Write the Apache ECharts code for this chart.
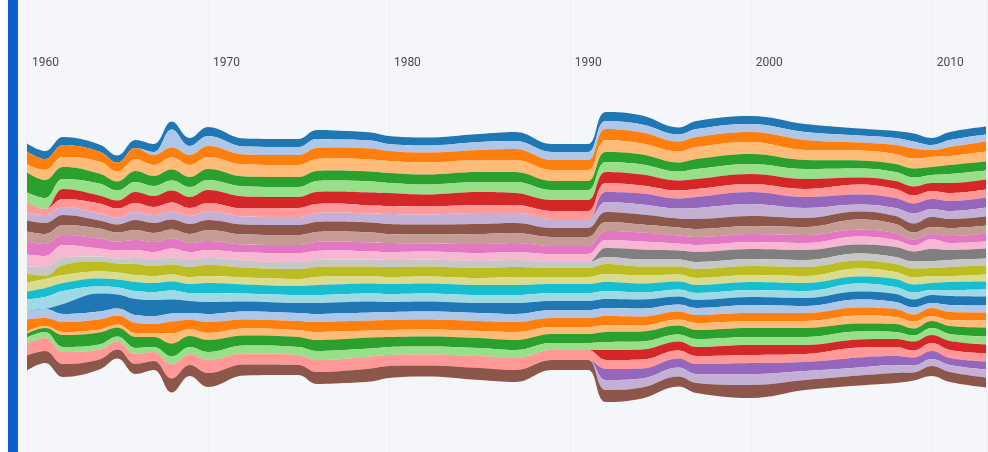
<!DOCTYPE html>
<html>
<head>
<meta charset="utf-8">
<title>ThemeRiver</title>
<script src="https://cdn.jsdelivr.net/npm/echarts@6/dist/echarts.min.js"></script>
<style>
    html, body { margin: 0; padding: 0; background: #fff; }
    #main { width: 988px; height: 452px; }
</style>
</head>
<body>
<div id="main"></div>
<script>
// 时间点
var years = [1960, 1961, 1962, 1964, 1965, 1966, 1967, 1968, 1969, 1970, 1972, 1975, 1976, 1977, 1979,
    1980, 1982, 1985, 1987, 1989, 1990, 1991, 1992, 1994, 1996, 1997, 2000, 2003, 2006, 2008, 2009,
    2010, 2011, 2013];

// 31 层, 从上到下
var layerNames = [];
for (var n = 1; n <= 31; n++) {
    layerNames.push('L' + n);
}

var palette = ['#1f77b4', '#aec7e8', '#ff7f0e', '#ffbb78', '#2ca02c', '#98df8a', '#d62728', '#ff9896',
    '#9467bd', '#c5b0d5', '#8c564b', '#c49c94', '#e377c2', '#f7b6d2', '#7f7f7f', '#c7c7c7',
    '#bcbd22', '#dbdb8d', '#17becf', '#9edae5'];

// 每一行对应 years 中的一年, 每列是一层的厚度
var thickness = [
    [8,0,13,8,20,10,0,10,0,8,11,10,13,12,0,7,9,9,8,12,0,8,12,2,4,6,0,12,0,0,15],
    [8,0,11,10,18,11,0,6,0,8,11,10,12,11,0,9,3,9,9,12,0,9,8,2,4,6,0,13,0,0,12],
    [8,0,12,10,12,10,10,8,0,8,10,10,10,12,0,8,10,8,8,13,10,8,10,3,12,5,0,12,0,0,13],
    [7,0,10,12,10,12,8,10,0,7,8,10,10,8,0,5,10,7,8,7,18,8,10,3,12,5,0,10,0,0,10],
    [7,0,9,10,9,10,8,9,0,7,8,9,9,8,0,5,9,7,8,7,14,7,9,3,9,5,0,8,0,0,9],
    [8,0,11,12,11,10,11,9,0,8,10,10,10,8,0,6,11,7,9,8,16,8,10,4,11,6,0,10,0,0,10],
    [8,3,10,11,10,10,11,8,0,8,10,9,10,8,0,6,10,7,9,8,16,8,9,4,10,5,0,9,0,0,9],
    [8,18,10,12,11,10,12,9,0,8,10,9,10,9,0,7,10,7,9,9,14,8,12,10,13,8,0,14,0,0,14],
    [8,9,10,12,10,10,11,8,0,8,10,9,9,8,0,7,10,7,9,8,12,7,9,7,11,7,0,11,0,0,11],
    [9,10,11,12,11,10,13,8,0,9,10,11,9,8,0,7,11,7,10,9,12,8,11,7,12,8,0,13,0,0,14],
    [8,8,10,12,10,10,12,8,0,8,10,10,8,8,0,7,10,7,9,8,10,8,9,7,10,8,0,11,0,0,11],
    [8,8,10,12,10,10,11,9,0,8,10,10,8,9,0,7,10,7,9,8,10,8,9,7,10,8,0,10,0,0,10],
    [9,9,11,12,10,11,12,9,0,9,10,10,9,9,0,7,10,8,10,8,11,8,10,8,11,9,0,12,0,0,12],
    [9,8,11,12,10,11,12,9,0,9,10,10,9,9,0,7,10,8,10,8,11,8,10,8,11,9,0,12,0,0,12],
    [8,8,11,12,10,11,13,8,0,9,10,10,9,8,0,7,10,7,10,8,11,8,10,7,11,8,0,12,0,0,13],
    [8,7,10,12,10,10,13,8,0,10,10,9,9,8,0,7,10,7,10,8,10,8,10,7,10,8,0,11,0,0,12],
    [8,7,10,12,10,10,12,8,0,10,10,9,8,8,0,7,10,7,10,8,10,8,10,7,10,8,0,11,0,0,11],
    [8,8,10,12,10,10,13,8,0,11,10,10,9,8,0,7,10,7,10,8,10,8,10,7,10,8,0,12,0,0,12],
    [9,8,11,12,10,11,12,8,0,10,10,10,9,8,0,7,10,8,10,8,11,8,10,8,10,8,0,12,0,0,12],
    [8,8,10,11,9,10,11,8,0,9,9,9,8,8,0,6,9,7,9,8,9,8,9,7,9,7,0,10,0,0,10],
    [8,8,10,11,9,10,11,8,0,9,9,9,8,8,0,6,9,7,9,8,9,8,9,7,9,7,0,10,0,0,10],
    [8,8,10,11,9,10,11,8,0,9,9,9,8,8,0,6,9,7,9,8,9,8,9,7,9,7,0,10,0,0,10],
    [9,8,11,12,10,10,11,9,10,10,10,9,9,8,9,7,10,8,9,8,9,8,9,7,10,8,10,9,11,10,12],
    [9,8,11,11,10,10,11,8,11,10,10,8,9,8,10,7,9,8,9,7,9,8,9,6,10,8,10,9,10,9,11],
    [7,7,10,11,9,9,10,8,10,10,9,8,8,7,9,7,8,7,8,7,8,7,8,6,9,7,9,8,9,9,10],
    [8,8,10,12,10,10,10,8,11,11,10,8,8,7,10,7,9,7,8,7,8,7,8,7,9,8,9,8,10,9,10],
    [8,8,10,12,10,10,10,8,12,12,10,8,8,7,10,7,9,7,8,7,8,8,8,7,9,8,10,8,11,11,13],
    [8,8,10,10,9,10,10,8,11,10,9,8,8,7,10,7,9,7,8,7,8,7,8,7,9,8,9,8,9,9,10],
    [7,7,8,10,8,9,7,10,10,7,8,10,7,8,9,7,8,8,7,8,8,8,8,8,8,8,8,10,10,8,10],
    [7,7,9,10,8,9,8,9,10,8,8,9,7,7,10,7,8,7,8,7,8,7,8,7,8,7,8,9,9,8,10],
    [8,7,10,10,9,9,9,8,10,10,9,7,6,6,10,7,9,7,8,7,8,7,7,7,7,6,9,7,8,7,8],
    [7,5,7,10,8,8,8,8,10,8,10,7,5,10,12,7,8,7,7,5,8,5,8,5,7,7,8,8,8,7,10],
    [8,7,9,9,9,9,10,8,10,8,9,8,7,7,10,7,9,6,8,6,9,7,8,6,8,7,9,8,7,7,10],
    [8,7,10,10,9,9,10,8,10,9,9,8,8,7,10,7,9,7,8,7,9,7,8,7,9,8,9,8,8,8,10]
];

// 组装 themeRiver 数据 [时间, 值, 名称]
var riverData = [];
layerNames.forEach(function (name, i) {
    years.forEach(function (year, j) {
        riverData.push([year, thickness[j][i], name]);
    });
});

var myChart = echarts.init(document.getElementById('main'));
myChart.setOption({
    backgroundColor: '#f4f6fa',
    color: palette,
    animation: false,
    graphic: [
        { type: 'rect', shape: { x: 0, y: 0, width: 8, height: 452 }, style: { fill: '#ffffff' } },
        { type: 'rect', shape: { x: 8, y: 0, width: 10, height: 452 }, style: { fill: '#0d5fcf' } }
    ],
    singleAxis: {
        type: 'value',
        min: 1960,
        max: 2013,
        interval: 10,
        left: 27,
        right: 2,
        top: 0,
        bottom: 0,
        position: 'top',
        axisLine: { show: false },
        axisTick: { show: false },
        axisLabel: {
            inside: true,
            margin: 57,
            align: 'left',
            padding: [0, 0, 0, 5],
            showMaxLabel: false,
            color: '#4a4a4a',
            fontSize: 12,
            fontFamily: '"Liberation Sans Narrow", Roboto, sans-serif',
            formatter: function (v) { return String(v); }
        },
        splitLine: { show: true, showMaxLine: false, lineStyle: { color: '#dadde3', width: 1, type: 'solid' } }
    },
    series: [{
        type: 'themeRiver',
        boundaryGap: [112, 50],
        label: { show: false },
        emphasis: { disabled: true },
        data: riverData
    }]
});
</script>
</body>
</html>
